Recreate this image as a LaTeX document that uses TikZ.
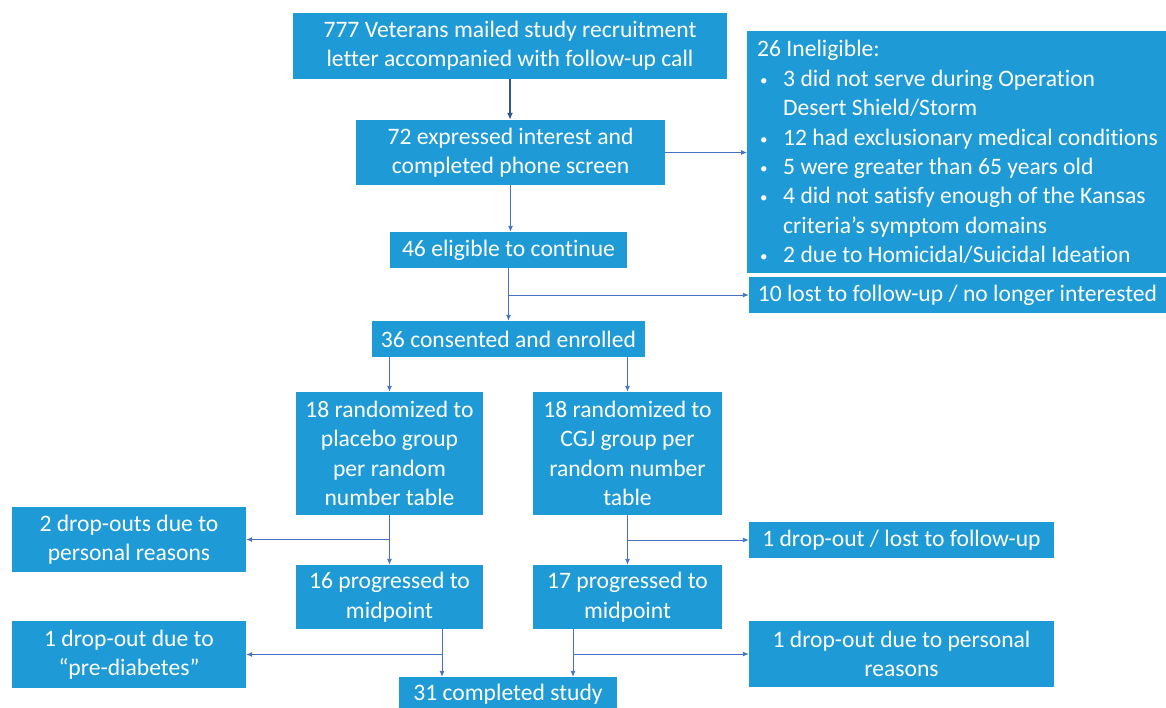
\documentclass[tikz,border=0pt]{standalone}
\usepackage{fontspec}
\setmainfont[Ligatures=NoCommon]{Carlito}
\usepackage{xcolor}
\usetikzlibrary{arrows.meta}
\definecolor{boxblue}{HTML}{1E9AD6}
\definecolor{arrowblue}{HTML}{4472C4}
\definecolor{darkarrow}{HTML}{2F5597}
\newcommand{\bul}{\makebox[26pt][l]{\hspace{3pt}\raisebox{1pt}{\fontsize{15}{15}\selectfont\textbullet}}}
\newcommand{\nobul}{\makebox[26pt]{}}

\begin{document}
\begin{tikzpicture}[x=1pt, y=1pt,
  box/.style={fill=boxblue, text=white, inner sep=0pt, align=center,
    font=\fontsize{23.6}{29.4}\selectfont},
  link/.style={arrowblue, line width=0.9pt, -{Latex[length=6pt,width=5pt]}}]
\useasboundingbox (0,0) rectangle (1166,-707);
\clip (0,0) rectangle (1166,-707);
\fill[white] (0,0) rectangle (1166,-707);

\node[box, minimum width=434, minimum height=66] (mail) at (510,-46)
  {777 Veterans mailed study recruitment\\letter accompanied with follow-up call};
\node[box, minimum width=309, minimum height=65] (phone) at (510.5,-152.5)
  {72 expressed interest and\\completed phone screen};
\node[box, minimum width=419, minimum height=242, align=left, anchor=north west,
  inner xsep=10pt] (inelig) at (747,-31)
  {26 Ineligible:\\
   \bul 3 did not serve during Operation\\
   \nobul Desert Shield/Storm\\
   \bul 12 had exclusionary medical conditions\\
   \bul 5 were greater than 65 years old\\
   \bul 4 did not satisfy enough of the Kansas\\
   \nobul criteria’s symptom domains\\
   \bul 2 due to Homicidal/Suicidal Ideation};
\node[box, minimum width=417, minimum height=36] (lost) at (957.5,-295)
  {10 lost to follow-up / no longer interested};
\node[box, minimum width=237, minimum height=36] (elig) at (508.5,-250)
  {46 eligible to continue};
\node[box, minimum width=273, minimum height=36] (consent) at (508.5,-339)
  {36 consented and enrolled};
\node[box, minimum width=187, minimum height=123] (placebo) at (389.5,-453.5)
  {18 randomized to\\placebo group\\per random\\number table};
\node[box, minimum width=189, minimum height=123] (cgj) at (627.5,-453.5)
  {18 randomized to\\CGJ group per\\random number\\table};
\node[box, minimum width=234, minimum height=65] (dropA) at (129,-539.5)
  {2 drop-outs due to\\personal reasons};
\node[box, minimum width=305, minimum height=36] (dropB) at (901.5,-540)
  {1 drop-out / lost to follow-up};
\node[box, minimum width=187, minimum height=64] (midA) at (389.5,-597)
  {16 progressed to\\midpoint};
\node[box, minimum width=189, minimum height=64] (midB) at (627.5,-597)
  {17 progressed to\\midpoint};
\node[box, minimum width=234, minimum height=67] (dropC) at (129,-654.5)
  {1 drop-out due to\\“pre-diabetes”};
\node[box, minimum width=305, minimum height=66] (dropD) at (901.5,-654)
  {1 drop-out due to personal\\reasons};
\node[box, minimum width=218, minimum height=34] (done) at (508,-694)
  {31 completed study};

\draw[darkarrow, line width=1.5pt, -{Latex[length=7pt,width=6pt]}]
  (mail.south) -- (mail.south |- phone.north);
\draw[link] (phone.east) -- (phone.east -| inelig.west);
\draw[link] (phone.south) -- (phone.south |- elig.north);
\draw[link] (elig) -- (consent);
\draw[link] (elig.south |- lost.west) -- (lost.west);
\draw[link] (placebo.north |- consent.south) -- (placebo.north);
\draw[link] (cgj.north |- consent.south) -- (cgj.north);
\draw[link] (placebo) -- (midA);
\draw[link] (placebo.south |- dropA.east) -- (dropA.east);
\draw[link] (cgj) -- (midB);
\draw[link] (cgj.south |- dropB.west) -- (dropB.west);
\coordinate (outA) at ([xshift=52.5]midA.south);
\coordinate (outB) at ([xshift=-54.5]midB.south);
\draw[link] (outA) -- (outA |- done.north);
\draw[link] (outA |- dropC.east) -- (dropC.east);
\draw[link] (outB) -- (outB |- done.north);
\draw[link] (outB |- dropD.west) -- (dropD.west);
\end{tikzpicture}
\end{document}
